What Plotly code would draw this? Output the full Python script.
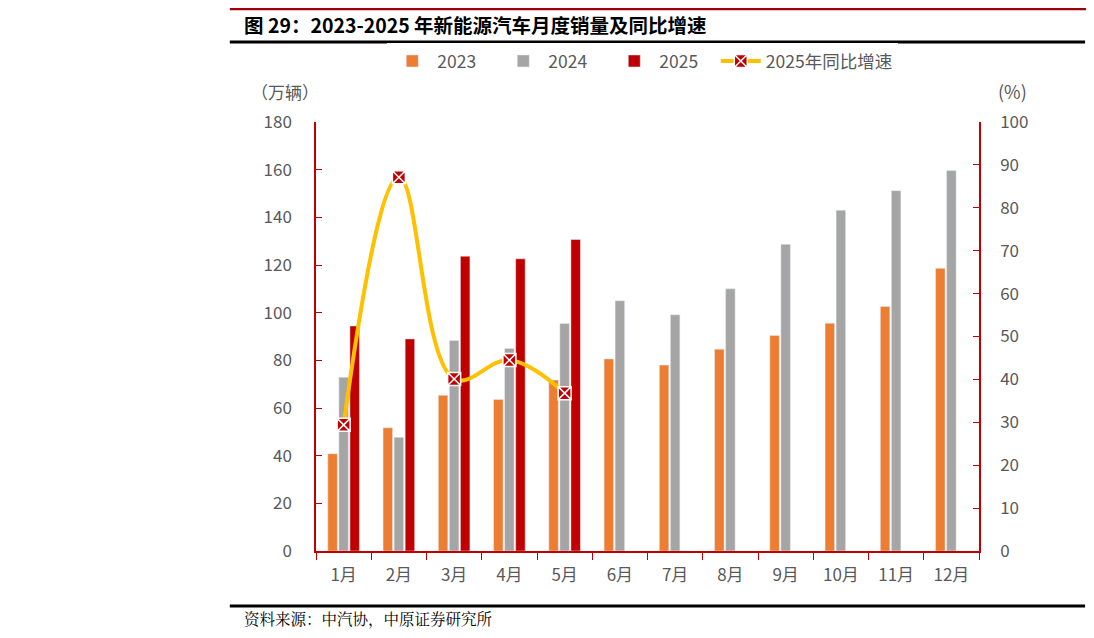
import plotly.graph_objects as go
from plotly.subplots import make_subplots

# data
months = ["1月", "2月", "3月", "4月", "5月", "6月", "7月", "8月", "9月", "10月", "11月", "12月"]
sales_2023 = [40.8, 51.7, 65.3, 63.6, 71.7, 80.6, 78.0, 84.7, 90.4, 95.6, 102.6, 118.6]
sales_2024 = [72.9, 47.7, 88.3, 85.0, 95.5, 105.0, 99.1, 110.0, 128.7, 143.0, 151.2, 159.6]
sales_2025 = [94.4, 89.0, 123.7, 122.6, 130.7, None, None, None, None, None, None, None]
growth_months = ["1月", "2月", "3月", "4月", "5月"]
growth_2025 = [29.4, 87.1, 40.1, 44.5, 36.8]

RED = "#C00000"
GREY_TXT = "#595959"
FONT = "Noto Sans CJK SC, sans-serif"

fig = make_subplots(specs=[[{"secondary_y": True}]])

fig.add_trace(go.Bar(x=months, y=sales_2023, name="2023", marker_color="#ED7D31"), secondary_y=False)
fig.add_trace(go.Bar(x=months, y=sales_2024, name="2024", marker_color="#A5A5A5"), secondary_y=False)
fig.add_trace(go.Bar(x=months, y=sales_2025, name="2025", marker_color=RED), secondary_y=False)
fig.add_trace(go.Scatter(x=growth_months, y=growth_2025, name="2025年同比增速",
                         mode="lines+markers", legend="legend2",
                         line=dict(color="#FFC000", width=4, shape="spline", smoothing=1.1),
                         marker=dict(symbol="square-x", size=13, color=RED,
                                     line=dict(color="white", width=1.5))),
              secondary_y=True)

# page body has an 8px margin, so the figure is a bit smaller than the window
fig.update_layout(
    width=1078, height=622,
    margin=dict(l=308, r=107, t=114, b=79, autoexpand=False),
    plot_bgcolor="white", paper_bgcolor="white",
    barmode="group", bargap=0.40, bargroupgap=0.14,
    font=dict(family=FONT, size=17, color=GREY_TXT),
    legend=dict(orientation="h", x=0.1075, xanchor="left", y=1.142, yanchor="middle",
                font=dict(family=FONT, size=17.5, color=GREY_TXT), traceorder="normal",
                itemwidth=40, entrywidth=56),
    legend2=dict(orientation="h", x=0.603, xanchor="left", y=1.142, yanchor="middle",
                 font=dict(family=FONT, size=17.5, color=GREY_TXT), itemwidth=40),
    showlegend=True,
)

fig.update_xaxes(domain=[0, 1], range=[-0.5, 11.5], showline=True, linecolor=RED, linewidth=1.5,
                 ticks="outside", tickson="boundaries", tickcolor=RED, ticklen=7, showgrid=False,
                 ticklabelstandoff=8, tickfont=dict(family=FONT, size=17, color=GREY_TXT))
fig.update_yaxes(range=[0, 180], dtick=20, showline=True, linecolor=RED, linewidth=1.5,
                 ticks="inside", tickcolor=RED, ticklen=6, showgrid=False, zeroline=False,
                 ticklabelstandoff=19, tickfont=dict(family=FONT, size=17, color=GREY_TXT),
                 secondary_y=False)
fig.update_yaxes(range=[0, 100], dtick=10, showline=True, linecolor=RED, linewidth=1.5,
                 ticks="inside", tickcolor=RED, ticklen=6, showgrid=False, zeroline=False,
                 ticklabelstandoff=16, tickfont=dict(family=FONT, size=17, color=GREY_TXT),
                 secondary_y=True)

# frame lines and texts of the report figure
fig.add_shape(type="line", xref="paper", yref="paper", x0=-0.13, x1=1.167, y0=1.2634, y1=1.2634,
              line=dict(color="#A00000", width=2.5))
fig.add_shape(type="line", xref="paper", yref="paper", x0=-0.13, x1=1.16, y0=1.1865, y1=1.1865,
              line=dict(color="black", width=3))
fig.add_shape(type="line", xref="paper", yref="paper", x0=-0.13, x1=1.16, y0=-0.128, y1=-0.128,
              line=dict(color="black", width=3))

fig.add_annotation(xref="paper", yref="paper", x=-0.111, y=1.228, xanchor="left", yanchor="middle",
                   text="<b>图 29：2023-2025 年新能源汽车月度销量及同比增速</b>", showarrow=False,
                   font=dict(family=FONT, size=19.5, color="black"))
fig.add_annotation(xref="paper", yref="paper", x=-0.047, y=1.072, xanchor="center", yanchor="middle",
                   text="（万辆）", showarrow=False, font=dict(family=FONT, size=17, color=GREY_TXT))
fig.add_annotation(xref="paper", yref="paper", x=1.05, y=1.072, xanchor="center", yanchor="middle",
                   text="(%)", showarrow=False, font=dict(family=FONT, size=18, color=GREY_TXT))
fig.add_annotation(xref="paper", yref="paper", x=-0.111, y=-0.157, xanchor="left", yanchor="middle",
                   text="资料来源：中汽协，中原证券研究所", showarrow=False,
                   font=dict(family="Noto Serif CJK SC, Noto Sans CJK SC, serif", size=15.5, color="black"))

fig.write_html("out.html")
